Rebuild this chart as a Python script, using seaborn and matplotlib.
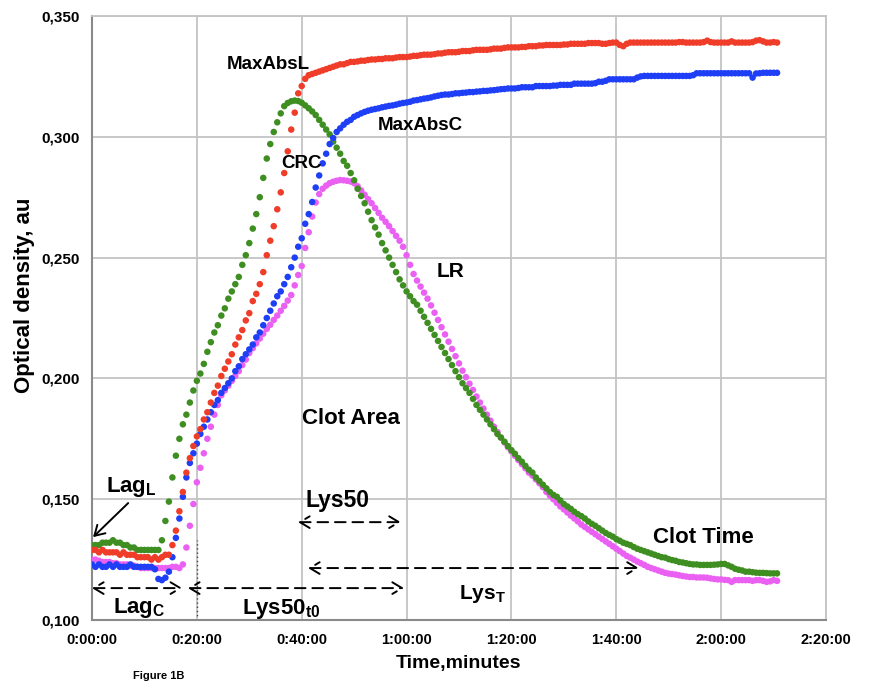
import numpy as np
import pandas as pd
import matplotlib
matplotlib.use("Agg")
import matplotlib.pyplot as plt
from matplotlib.ticker import MultipleLocator, FuncFormatter
import seaborn as sns

# plate reader interval: one reading every 40 s, time axis in minutes
SAMPLE_MIN = 40 / 60

# optical density (au), one value per reading
clot_l = [
    0.129, 0.129, 0.128, 0.129, 0.128, 0.128, 0.128, 0.128, 0.127, 0.128,
    0.127, 0.127, 0.127, 0.126, 0.126, 0.126, 0.126, 0.125, 0.126, 0.125,
    0.126, 0.127, 0.127, 0.131, 0.137, 0.145, 0.153, 0.161, 0.167, 0.172,
    0.176, 0.179, 0.183, 0.186, 0.190, 0.194, 0.197, 0.201, 0.204, 0.207,
    0.210, 0.214, 0.217, 0.220, 0.224, 0.227, 0.232, 0.235, 0.239, 0.244,
    0.251, 0.257, 0.263, 0.270, 0.277, 0.285, 0.294, 0.303, 0.310, 0.318,
    0.321, 0.324, 0.3255, 0.326, 0.3265, 0.327, 0.3275, 0.328, 0.3285, 0.329,
    0.3295, 0.330, 0.330, 0.3305, 0.331, 0.331, 0.3312, 0.3315, 0.3315, 0.3318,
    0.332, 0.332, 0.3322, 0.3322, 0.3325, 0.3325, 0.3325, 0.3328, 0.333, 0.333,
    0.333, 0.3332, 0.3335, 0.3335, 0.3338, 0.334, 0.334, 0.334, 0.3342, 0.3345,
    0.3345, 0.3348, 0.335, 0.335, 0.335, 0.3352, 0.3355, 0.3355, 0.3355, 0.3358,
    0.336, 0.336, 0.336, 0.336, 0.3362, 0.3365, 0.3365, 0.3365, 0.3368, 0.337,
    0.337, 0.337, 0.337, 0.3372, 0.3372, 0.3375, 0.3375, 0.3375, 0.3378, 0.3378,
    0.338, 0.338, 0.338, 0.338, 0.338, 0.3382, 0.3382, 0.3385, 0.3385, 0.3385,
    0.3385, 0.3385, 0.3388, 0.3388, 0.3388, 0.3388, 0.3385, 0.3385, 0.3388, 0.339,
    0.339, 0.338, 0.3375, 0.3385, 0.339, 0.339, 0.339, 0.339, 0.339, 0.339,
    0.339, 0.339, 0.339, 0.339, 0.339, 0.339, 0.339, 0.339, 0.3392, 0.3392,
    0.339, 0.339, 0.339, 0.339, 0.339, 0.3392, 0.3398, 0.3392, 0.339, 0.339,
    0.339, 0.339, 0.339, 0.3395, 0.339, 0.339, 0.339, 0.339, 0.339, 0.3392,
    0.3398, 0.340, 0.3395, 0.339, 0.339, 0.3392, 0.339,
]

clot_c = [
    0.123, 0.122, 0.123, 0.122, 0.122, 0.123, 0.122, 0.123, 0.122, 0.122,
    0.122, 0.123, 0.122, 0.122, 0.122, 0.122, 0.122, 0.122, 0.121, 0.117,
    0.1165, 0.1175, 0.120, 0.126, 0.134, 0.142, 0.151, 0.159, 0.165, 0.169,
    0.173, 0.177, 0.180, 0.183, 0.186, 0.189, 0.191, 0.194, 0.196, 0.198,
    0.200, 0.203, 0.205, 0.208, 0.210, 0.212, 0.214, 0.217, 0.219, 0.222,
    0.225, 0.228, 0.231, 0.234, 0.236, 0.239, 0.242, 0.246, 0.250, 0.2545,
    0.258, 0.264, 0.268, 0.273, 0.279, 0.284, 0.289, 0.293, 0.297, 0.2995,
    0.302, 0.3035, 0.305, 0.3062, 0.307, 0.3083, 0.309, 0.3097, 0.3103, 0.3108,
    0.3112, 0.3115, 0.3118, 0.3122, 0.3125, 0.3128, 0.313, 0.3133, 0.3137, 0.314,
    0.3142, 0.3145, 0.315, 0.3152, 0.3155, 0.3158, 0.316, 0.3163, 0.3167, 0.317,
    0.3173, 0.3175, 0.3175, 0.3177, 0.318, 0.318, 0.3182, 0.3183, 0.3185, 0.3185,
    0.3187, 0.3188, 0.319, 0.319, 0.3192, 0.3193, 0.3195, 0.3197, 0.3198, 0.320,
    0.320, 0.320, 0.3202, 0.3205, 0.3205, 0.3205, 0.3205, 0.321, 0.321, 0.321,
    0.321, 0.321, 0.3212, 0.3212, 0.3215, 0.3215, 0.3215, 0.3215, 0.322, 0.322,
    0.322, 0.322, 0.322, 0.322, 0.3222, 0.3228, 0.3228, 0.3232, 0.3238, 0.3238,
    0.3238, 0.3238, 0.3238, 0.3238, 0.3238, 0.3238, 0.3245, 0.325, 0.3252, 0.3252,
    0.3252, 0.3252, 0.3252, 0.3252, 0.3252, 0.3252, 0.3252, 0.3252, 0.3252, 0.3252,
    0.3252, 0.3252, 0.3255, 0.3263, 0.3263, 0.3263, 0.3263, 0.3263, 0.3263, 0.3263,
    0.3263, 0.3263, 0.3263, 0.3263, 0.3263, 0.3263, 0.3263, 0.3263, 0.3263, 0.3245,
    0.3262, 0.3263, 0.3265, 0.3265, 0.3265, 0.3265, 0.3265,
]

lysis_crc = [
    0.131, 0.131, 0.131, 0.132, 0.132, 0.132, 0.133, 0.132, 0.132, 0.131,
    0.131, 0.130, 0.130, 0.129, 0.129, 0.129, 0.129, 0.129, 0.129, 0.129,
    0.133, 0.141, 0.149, 0.159, 0.168, 0.175, 0.181, 0.185, 0.190, 0.195,
    0.199, 0.202, 0.206, 0.211, 0.215, 0.219, 0.222, 0.226, 0.229, 0.233,
    0.236, 0.239, 0.242, 0.247, 0.251, 0.256, 0.262, 0.268, 0.275, 0.283,
    0.291, 0.297, 0.302, 0.306, 0.3097, 0.3127, 0.314, 0.3147, 0.315, 0.3148,
    0.3141, 0.313, 0.3118, 0.3105, 0.309, 0.307, 0.305, 0.303, 0.301, 0.298,
    0.2955, 0.293, 0.290, 0.288, 0.285, 0.282, 0.2785, 0.2755, 0.2725, 0.269,
    0.2655, 0.2625, 0.2595, 0.256, 0.253, 0.250, 0.247, 0.244, 0.241, 0.2385,
    0.236, 0.234, 0.232, 0.2305, 0.228, 0.2255, 0.223, 0.2205, 0.218, 0.2155,
    0.213, 0.2105, 0.208, 0.2055, 0.203, 0.2005, 0.198, 0.196, 0.194, 0.1915,
    0.189, 0.187, 0.185, 0.183, 0.181, 0.179, 0.177, 0.1755, 0.1738, 0.172,
    0.1703, 0.1688, 0.167, 0.1655, 0.1638, 0.1622, 0.161, 0.159, 0.1575, 0.156,
    0.1545, 0.153, 0.1518, 0.151, 0.1495, 0.148, 0.147, 0.146, 0.1448, 0.1438,
    0.143, 0.142, 0.1408, 0.1398, 0.139, 0.138, 0.137, 0.136, 0.1352, 0.1345,
    0.1335, 0.1328, 0.132, 0.1315, 0.131, 0.1302, 0.1295, 0.129, 0.1285, 0.128,
    0.1275, 0.127, 0.1265, 0.126, 0.1258, 0.1252, 0.1248, 0.1245, 0.124, 0.1238,
    0.1235, 0.1232, 0.123, 0.123, 0.1228, 0.1228, 0.1228, 0.1228, 0.1229, 0.123,
    0.1232, 0.1232, 0.1226, 0.122, 0.1212, 0.1208, 0.1205, 0.120, 0.120, 0.1198,
    0.1196, 0.1195, 0.1195, 0.1194, 0.1193, 0.1193, 0.1193,
]

lysis_lr = [
    0.125, 0.125, 0.1245, 0.124, 0.124, 0.124, 0.1235, 0.1235, 0.123, 0.123,
    0.123, 0.1225, 0.1225, 0.122, 0.1215, 0.1215, 0.1215, 0.1215, 0.1215, 0.1215,
    0.1215, 0.1215, 0.1215, 0.122, 0.122, 0.1215, 0.123, 0.130, 0.139, 0.148,
    0.157, 0.163, 0.169, 0.175, 0.180, 0.185, 0.189, 0.193, 0.195, 0.197,
    0.199, 0.201, 0.203, 0.2055, 0.2078, 0.2105, 0.2125, 0.2145, 0.2165, 0.2185,
    0.2205, 0.2222, 0.2242, 0.226, 0.228, 0.230, 0.2322, 0.2345, 0.2385, 0.2428,
    0.2465, 0.254, 0.2605, 0.267, 0.2728, 0.2763, 0.2785, 0.2798, 0.2808, 0.2814,
    0.2818, 0.2821, 0.282, 0.2818, 0.2815, 0.2808, 0.2795, 0.2778, 0.276, 0.2742,
    0.2725, 0.2705, 0.2685, 0.2665, 0.2648, 0.263, 0.261, 0.259, 0.257, 0.2545,
    0.251, 0.247, 0.2432, 0.2405, 0.238, 0.2355, 0.233, 0.2302, 0.2272, 0.2242,
    0.2212, 0.2182, 0.2152, 0.2122, 0.2092, 0.2062, 0.2032, 0.2005, 0.1978, 0.1952,
    0.1925, 0.190, 0.1875, 0.185, 0.1825, 0.180, 0.1778, 0.1755, 0.1735, 0.1715,
    0.1698, 0.168, 0.1662, 0.1645, 0.1628, 0.161, 0.1598, 0.1582, 0.1566, 0.155,
    0.153, 0.1515, 0.150, 0.1485, 0.147, 0.1458, 0.1445, 0.1432, 0.142, 0.1408,
    0.1395, 0.1385, 0.1375, 0.1365, 0.1355, 0.1345, 0.1335, 0.1325, 0.1315, 0.1305,
    0.1295, 0.1285, 0.1275, 0.1265, 0.1258, 0.125, 0.1242, 0.1235, 0.1228, 0.122,
    0.1215, 0.121, 0.1205, 0.120, 0.1195, 0.1192, 0.119, 0.1188, 0.1185, 0.1182,
    0.118, 0.1178, 0.1178, 0.1176, 0.1176, 0.1176, 0.1175, 0.1172, 0.117, 0.1168,
    0.1168, 0.1166, 0.1165, 0.1158, 0.1165, 0.1165, 0.1165, 0.1165, 0.1165, 0.1162,
    0.1165, 0.1165, 0.1162, 0.1158, 0.116, 0.1165, 0.1162,
]

# drawing order: first listed is drawn first
series = {"LR": lysis_lr, "CRC": lysis_crc, "MaxAbsC": clot_c, "MaxAbsL": clot_l}
colors = {"LR": "#e960f2", "CRC": "#3f8e22", "MaxAbsC": "#1f3ff6", "MaxAbsL": "#ef3d2a"}

# labels (text, minutes, OD, font size)
labels = [
    ("MaxAbsL", 33.6, 0.3300, 13.5),
    ("MaxAbsC", 62.6, 0.3045, 13.5),
    ("CRC", 39.9, 0.2891, 13.5),
    ("LR", 68.3, 0.2444, 15),
    ("Clot Area", 49.4, 0.1836, 16),
    ("Lys50", 46.9, 0.1495, 16.5),
    ("Clot Time", 116.7, 0.1343, 16),
    ("Lag$_\\mathregular{L}$", 7.5, 0.1550, 16),
    ("Lag$_\\mathregular{C}$", 9.0, 0.1050, 16),
    ("Lys50$_\\mathregular{t0}$", 36.0, 0.1045, 16),
    ("Lys$_\\mathregular{T}$", 74.4, 0.1108, 15),
]
# dashed spans (start min, end min, OD)
spans = [(0.0, 17.2, 0.1132), (18.3, 59.5, 0.1132), (39.3, 58.9, 0.1405), (41.2, 104.3, 0.1215)]

rows = []
for name, vals in series.items():
    t = np.arange(len(vals)) * SAMPLE_MIN
    rows.append(pd.DataFrame({"time": t, "od": vals, "series": name}))
df = pd.concat(rows, ignore_index=True)

sns.set_theme(style="white")
plt.rcParams["font.family"] = ["Liberation Sans", "DejaVu Sans"]
plt.rcParams.update({"text.color": "black", "axes.labelcolor": "black",
                     "xtick.labelcolor": "black", "ytick.labelcolor": "black"})

fig = plt.figure(figsize=(8.77, 6.82), dpi=100)
ax = fig.add_axes([92 / 877, 62 / 682, 734 / 877, 604 / 682])

sns.scatterplot(data=df, x="time", y="od", hue="series", palette=colors,
                s=22, linewidth=0, legend=False, ax=ax, zorder=3)

ax.set_xlim(0, 140)
ax.set_ylim(0.100, 0.350)
ax.xaxis.set_major_locator(MultipleLocator(20))
ax.yaxis.set_major_locator(MultipleLocator(0.05))
ax.xaxis.set_major_formatter(FuncFormatter(lambda v, p: f"{int(v) // 60}:{int(v) % 60:02d}:00"))
ax.yaxis.set_major_formatter(FuncFormatter(lambda v, p: f"{v:.3f}".replace(".", ",")))
ax.grid(True, color="#c4c4c4", lw=1.3)
ax.set_axisbelow(True)
for side in ["top", "right"]:
    ax.spines[side].set_color("#c4c4c4")
    ax.spines[side].set_linewidth(1.3)
for side in ["left", "bottom"]:
    ax.spines[side].set_color("#8a8a8a")
    ax.spines[side].set_linewidth(1.5)
ax.tick_params(axis="both", direction="out", length=5, width=1.3, color="#8a8a8a", pad=4)
ax.tick_params(axis="x", labelsize=10.5)
ax.tick_params(axis="y", labelsize=11)
for lab in ax.get_xticklabels() + ax.get_yticklabels():
    lab.set_fontweight("bold")

ax.set_xlabel("Time,minutes", fontsize=14, fontweight="bold", labelpad=6)
ax.set_ylabel("Optical density, au", fontsize=16, fontweight="bold")
ax.yaxis.set_label_coords(-0.077, 0.538)

for txt, x, y, size in labels:
    ax.text(x, y, txt, fontsize=size, fontweight="bold", ha="center", va="center", zorder=5)

for x0, x1, y in spans:
    ax.annotate("", xy=(x1, y), xytext=(x0, y),
                arrowprops=dict(arrowstyle="<->,head_length=0.5,head_width=0.3",
                                linestyle=(0, (5.5, 3.5)), lw=1.4, color="black",
                                shrinkA=0, shrinkB=0, mutation_scale=14))

# Lag_L pointer and the onset marker at 20 min
ax.annotate("", xy=(0.2, 0.1343), xytext=(6.9, 0.1484),
            arrowprops=dict(arrowstyle="->,head_length=0.5,head_width=0.3", lw=1.4,
                            color="black", shrinkA=0, shrinkB=0, mutation_scale=14))
ax.plot([20, 20], [0.100, 0.133], ls=(0, (1, 2)), color="#444444", lw=1.0, zorder=2)

# caption of the source page, small enough to stay inside the bottom margin
fig.text(133 / 877, 1 / 682, "Figure 1B", fontsize=8, fontweight="bold", va="bottom", ha="left")

fig.savefig("out.png", dpi=100)
